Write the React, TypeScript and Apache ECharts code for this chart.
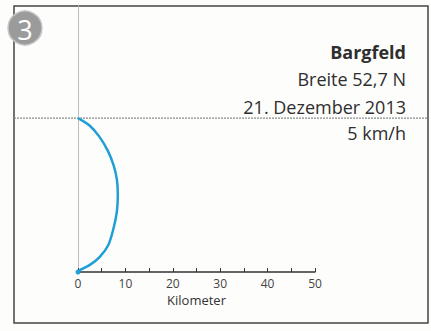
import React, { useEffect, useRef } from "react";
import * as echarts from "echarts";

const xTicks = [0, 10, 20, 30, 40, 50];
const routeX = [0, 0.4, 2.5, 4.6, 6.4, 7.5, 8.2, 8.4, 8.2, 7.5, 6.3, 4.5, 2.5, 0];
const routeY = [0, 0.4, 1.5, 3.2, 5.7, 9.2, 12.7, 16.2, 19.5, 22.5, 25.5, 28.5, 30.8, 32.4];
const horizonY = 32.4;
const titleLines = ["Bargfeld", "Breite 52,7 N", "21. Dezember 2013", "5 km/h"];
const badge = "3";
const axisName = "Kilometer";

export default function App() {
  const ref = useRef<HTMLDivElement>(null);
  useEffect(() => {
    if (!ref.current) return;
    const chart = echarts.init(ref.current, null, { renderer: "svg" });
    const data = routeX.map((x, i) => [x, routeY[i]]);
    const font = "'Open Sans', 'Noto Sans', sans-serif";
    const baseOption: any = {
      animation: false,
      backgroundColor: "#fdfdfc",
      grid: { left: 78, right: 116, top: 6, bottom: 59 },
      xAxis: {
        type: "value",
        min: xTicks[0],
        max: xTicks[xTicks.length - 1],
        interval: 10,
        axisLine: { show: true, lineStyle: { color: "#333", width: 1.5 } },
        axisTick: { show: true, inside: true, length: 4, lineStyle: { color: "#333" } },
        minorTick: { show: true, splitNumber: 2, length: 4, lineStyle: { color: "#333" } },
        splitLine: { show: false },
        axisLabel: { color: "#444", fontSize: 12, margin: 5, fontFamily: font },
        name: axisName,
        nameLocation: "middle",
        nameGap: 20,
        nameTextStyle: { color: "#333", fontSize: 13, fontFamily: font },
      },
      yAxis: {
        type: "value",
        min: 0,
        max: 56,
        axisLine: { show: true, onZero: false, lineStyle: { color: "#bdbdbd", width: 1 } },
        axisTick: { show: false },
        axisLabel: { show: false },
        splitLine: { show: false },
      },
      series: [
        {
          type: "line",
          data,
          smooth: 0.3,
          showSymbol: true,
          symbol: (_v: any, p: any) => (p.dataIndex === 0 ? "circle" : "none"),
          symbolSize: 5,
          itemStyle: { color: "#1f9fd6" },
          lineStyle: { color: "#1f9fd6", width: 2.5 },
        },
      ],
    };
    chart.setOption(baseOption);
    const hy = chart.convertToPixel({ gridIndex: 0 }, [0, horizonY])[1];
    const lineYs = [52, 79, 107, 133];
    chart.setOption({
      graphic: [
        {
          type: "rect",
          shape: { x: 14, y: 6, width: 414, height: 317 },
          style: { fill: "none", stroke: "#444", lineWidth: 1.5 },
          silent: true,
        },
        {
          type: "line",
          shape: { x1: 14, y1: hy, x2: 428, y2: hy },
          style: { stroke: "#8a8a8a", lineWidth: 1.3, lineDash: [2, 1] },
          silent: true,
        },
        {
          type: "circle",
          shape: { cx: 25, cy: 28, r: 17 },
          style: { fill: "#9b9b9b", stroke: "#c8c8c8", lineWidth: 1.5 },
        },
        {
          type: "text",
          x: 25,
          y: 29,
          style: {
            text: badge,
            fill: "#ffffff",
            fontSize: 27,
            fontFamily: font,
            align: "center",
            verticalAlign: "middle",
          },
        },
        ...titleLines.map((t, i) => ({
          type: "text",
          x: 406,
          y: lineYs[i],
          style: {
            text: t,
            fill: "#2e2e2e",
            fontSize: 18,
            fontWeight: i === 0 ? "bold" : "normal",
            fontFamily: font,
            align: "right",
            verticalAlign: "middle",
          },
        })),
      ],
    });
    return () => chart.dispose();
  }, []);
  return (
    <div
      ref={ref}
      style={{ position: "fixed", left: 0, top: 0, width: 431, height: 331 }}
    />
  );
}
